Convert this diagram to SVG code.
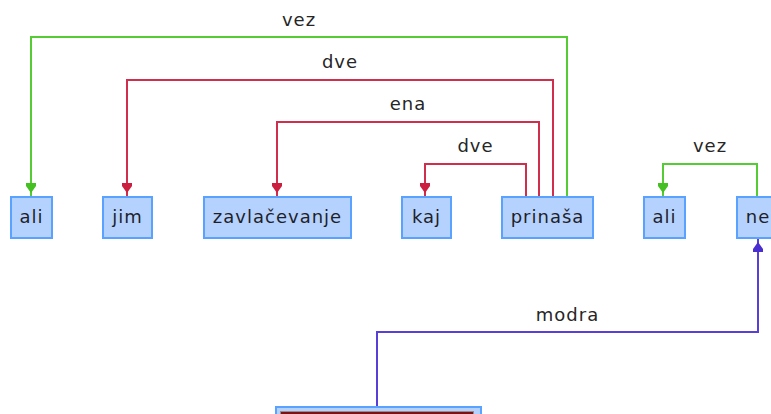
<svg xmlns="http://www.w3.org/2000/svg" width="771" height="414" viewBox="0 0 771 414">
<style>
.node rect.box{fill:#b5d2ff;stroke:#5aa2ff;stroke-width:2}
.node text{font-family:"DejaVu Sans",sans-serif;font-size:18px;letter-spacing:1px;fill:#1f1f2a;text-anchor:middle}
.lbl{font-family:"DejaVu Sans",sans-serif;font-size:18px;letter-spacing:1px;fill:#262626;text-anchor:middle}
.c{fill:none;stroke-width:2}
.g{stroke:#55cc33}
.r{stroke:#cf2e4c}
.p{stroke:#5a3ed8}
</style>
<defs>
<marker id="ag" markerUnits="userSpaceOnUse" viewBox="0 0 14 12" markerWidth="14" markerHeight="12" refX="14" refY="6" orient="auto" overflow="visible"><path d="M1 1H4L11 6 4 11H1Z" fill="#44c022"/></marker>
<marker id="ar" markerUnits="userSpaceOnUse" viewBox="0 0 14 12" markerWidth="14" markerHeight="12" refX="14" refY="6" orient="auto" overflow="visible"><path d="M1 1H4L11 6 4 11H1Z" fill="#cc1f3f"/></marker>
<marker id="ap" markerUnits="userSpaceOnUse" viewBox="0 0 14 12" markerWidth="14" markerHeight="12" refX="14" refY="6" orient="auto" overflow="visible"><path d="M1 1H4L11 6 4 11H1Z" fill="#4a2ed0"/></marker>
</defs>
<rect width="771" height="414" fill="#fff"/>
<g id="connectors">
<path class="c g" d="M567 196V37H31V196" marker-end="url(#ag)"/>
<path class="c r" d="M553 196V80H127V196" marker-end="url(#ar)"/>
<path class="c r" d="M539 196V122H277V196" marker-end="url(#ar)"/>
<path class="c r" d="M526 196V164H425V196" marker-end="url(#ar)"/>
<path class="c g" d="M757 196V164H663V196" marker-end="url(#ag)"/>
<path class="c p" d="M377 406V332H758V239" marker-end="url(#ap)"/>
<text class="lbl" x="299" y="26">vez</text>
<text class="lbl" x="340" y="68">dve</text>
<text class="lbl" x="408" y="110">ena</text>
<text class="lbl" x="475.5" y="152">dve</text>
<text class="lbl" x="710" y="152">vez</text>
<text class="lbl" x="567.5" y="321">modra</text>
</g>
<g id="n-ali1" class="node"><rect class="box" x="11" y="197" width="41" height="41"/><text x="31.5" y="223">ali</text></g>
<g id="n-jim" class="node"><rect class="box" x="103" y="197" width="49" height="41"/><text x="127.5" y="223">jim</text></g>
<g id="n-zavlacevanje" class="node"><rect class="box" x="204" y="197" width="147" height="41"/><text x="277.5" y="223">zavlačevanje</text></g>
<g id="n-kaj" class="node"><rect class="box" x="402" y="197" width="49" height="41"/><text x="426.5" y="223">kaj</text></g>
<g id="n-prinasa" class="node"><rect class="box" x="502" y="197" width="91" height="41"/><text x="547.5" y="223">prinaša</text></g>
<g id="n-ali2" class="node"><rect class="box" x="644" y="197" width="41" height="41"/><text x="664.5" y="223">ali</text></g>
<g id="n-ne" class="node"><rect class="box" x="737" y="197" width="42" height="41"/><text x="758" y="223">ne</text></g>
<g id="n-bottom" class="node"><rect class="box" x="276" y="407" width="205" height="41"/><rect x="280.5" y="411.5" width="193" height="20" fill="#7a1414" stroke="#9a8a8a" stroke-width="1"/></g>
</svg>
